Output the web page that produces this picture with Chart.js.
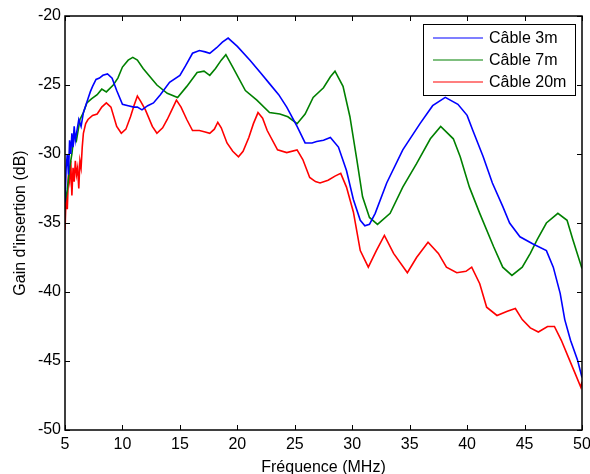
<!DOCTYPE html>
<html lang="fr">
  <head>
    <meta charset="UTF-8" />
    <title>Gain d'insertion</title>
    <script src="https://cdn.jsdelivr.net/npm/chart.js@4.4.1/dist/chart.umd.min.js"></script>
    <style>
      html, body { margin: 0; padding: 0; background: #fff; }
      #wrap { width: 590px; height: 474px; }
    </style>
  </head>
  <body>
    <div id="wrap"><canvas id="chart"></canvas></div>

    <script>
      // axes
      var xTicks = [5, 10, 15, 20, 25, 30, 35, 40, 45, 50];
      var yTicks = [-50, -45, -40, -35, -30, -25, -20];
      var labels = ['Câble 3m', 'Câble 7m', 'Câble 20m'];

      // Câble 3m
      var freq3 = [5.0,5.1,5.2,5.3,5.4,5.5,5.6,5.7,5.8,5.9, 6.0,6.2,6.4,6.6,6.8,7.0,7.2,7.4,7.7,8.0,
        8.3,8.7,9.1,9.5,10.0,10.5,11.0,11.3,11.7,12.2, 12.7,13.3,14.1,15.0,15.5,16.1,16.7,17.2,17.6,18.2,
        18.7,19.2,20.0,21.1,22.0,22.8,23.6,24.3,25.2,25.9, 26.5,26.9,27.5,28.1,28.8,29.5,30.1,30.7,31.1,31.5,
        32.0,33.0,34.4,35.9,37.0,38.1,39.2,40.0,40.5,41.4, 42.2,43.1,43.7,44.6,45.7,46.9,47.5,48.1,48.5,49.0,
        49.6,50.0];
      var gain3 = [-33.5,-31,-30,-31.5,-29,-30,-28.5,-29.5,-28,-29, -28.5,-27.5,-28,-27,-26.5,-26,-25.5,-25.1,-24.6,-24.5,
        -24.3,-24.2,-24.5,-25.4,-26.4,-26.5,-26.6,-26.6,-26.8,-26.5, -26.3,-25.7,-24.8,-24.3,-23.6,-22.7,-22.5,-22.6,-22.7,-22.3,
        -21.9,-21.6,-22.2,-23.2,-24.1,-24.9,-25.7,-26.6,-28.0,-29.2, -29.2,-29.1,-29.0,-28.8,-29.5,-31.2,-33.3,-34.8,-35.2,-35.1,
        -34.3,-32.1,-29.7,-27.8,-26.5,-25.9,-26.4,-27.2,-28.3,-30.2, -32.1,-33.8,-35.0,-36.0,-36.5,-37.0,-38.2,-40.1,-42.0,-43.5,
        -44.9,-46.2];

      // Câble 7m
      var freq7 = [5.0,5.2,5.4,5.6,5.8,6.0,6.3,6.6,6.9,7.3, 7.8,8.2,8.6,9.2,9.6,10.0,10.5,10.9,11.3,11.8,
        12.4,13.0,13.9,14.8,15.6,16.5,17.1,17.6,18.1,18.6, 19.0,19.6,20.7,21.7,22.8,23.7,24.4,25.2,25.9,26.6,
        27.5,28.1,28.5,29.2,29.8,30.4,30.9,31.5,32.2,33.3, 34.4,35.6,36.8,37.7,38.8,39.4,40.2,41.1,42.3,43.1,
        43.9,44.8,45.5,46.1,46.9,47.9,48.7,49.2,50.0];
      var gain7 = [-33.5,-32.6,-31,-30,-28.5,-29,-27.5,-27,-26.3,-26, -25.7,-25.3,-25.5,-25.0,-24.5,-23.7,-23.2,-23.0,-23.2,-23.8,
        -24.4,-25.0,-25.6,-25.9,-25.1,-24.1,-24.0,-24.3,-23.8,-23.2, -22.8,-23.7,-25.4,-26.1,-27.0,-27.1,-27.3,-27.8,-27.1,-25.9,
        -25.2,-24.4,-24.0,-25.1,-27.3,-30.4,-33.1,-34.6,-35.1,-34.3, -32.4,-30.7,-28.9,-28.0,-28.9,-30.2,-32.4,-34.3,-36.7,-38.2,
        -38.8,-38.2,-37.2,-36.2,-35.0,-34.3,-34.8,-36.2,-38.3];

      // Câble 20m
      var freq20 = [5.0,5.1,5.2,5.3,5.4,5.5,5.6,5.7,5.8,5.9, 6.0,6.1,6.2,6.3,6.4,6.5,6.6,6.8,7.0,7.4,
        7.8,8.2,8.6,9.0,9.5,9.9,10.3,10.7,11.0,11.3, 11.6,12.0,12.6,13.0,13.5,13.9,14.3,14.7,15.1,15.6,
        16.1,16.7,17.2,17.6,18.0,18.3,18.6,19.1,19.6,20.1, 20.5,21.0,21.4,21.8,22.2,22.6,23.5,24.3,25.2,25.7,
        26.3,26.8,27.2,27.9,28.5,29.0,29.5,30.1,30.7,31.4, 32.1,32.8,33.6,34.8,35.6,36.6,37.5,38.2,39.1,39.9,
        40.4,41.1,41.7,42.6,43.5,44.2,44.8,45.5,46.2,47.0, 47.6,48.2,48.8,49.4,49.9,50.0];
      var gain20 = [-35.5,-33,-34,-31.5,-32,-30.5,-33,-31,-32,-30.5, -31.5,-31,-32.5,-30.5,-31,-29.5,-28.5,-27.8,-27.5,-27.2,
        -27.1,-26.6,-26.3,-26.6,-28.0,-28.5,-28.2,-27.3,-26.5,-25.8, -26.2,-26.8,-28.0,-28.5,-28.1,-27.5,-26.8,-26.1,-26.6,-27.5,
        -28.3,-28.3,-28.4,-28.5,-28.2,-27.7,-28.1,-29.2,-29.8,-30.2, -29.8,-28.8,-27.8,-27.0,-27.4,-28.3,-29.7,-29.9,-29.7,-30.4,
        -31.7,-32.0,-32.1,-31.9,-31.6,-31.4,-32.4,-34.2,-37.0,-38.2, -37.0,-35.9,-37.2,-38.6,-37.5,-36.4,-37.2,-38.2,-38.6,-38.5,
        -38.2,-39.4,-41.1,-41.7,-41.4,-41.2,-42.0,-42.6,-42.9,-42.5, -42.5,-43.5,-44.7,-45.9,-46.9,-46.5];

      var colors = ['#0000ff', '#008000', '#ff0000'];

      function pts(xs, ys) {
        return xs.map(function (x, i) { return { x: x, y: ys[i] }; });
      }

      var FONT = 'Liberation Sans, Arial, sans-serif';
      Chart.defaults.font.family = FONT;
      Chart.defaults.font.size = 16;
      Chart.defaults.color = '#000';

      // cadre + graduations vers l'interieur (style matlab)
      var boxTicks = {
        id: 'boxTicks',
        afterDatasetsDraw: function (chart) {
          var ctx = chart.ctx, a = chart.chartArea;
          var xs = chart.scales.x, ys = chart.scales.y;
          var len = 5;
          ctx.save();
          ctx.strokeStyle = '#000';
          ctx.lineWidth = 1;
          ctx.beginPath();
          xTicks.forEach(function (v) {
            var px = Math.round(xs.getPixelForValue(v)) + 0.5;
            ctx.moveTo(px, a.bottom); ctx.lineTo(px, a.bottom - len);
            ctx.moveTo(px, a.top); ctx.lineTo(px, a.top + len);
          });
          yTicks.forEach(function (v) {
            var py = Math.round(ys.getPixelForValue(v)) + 0.5;
            ctx.moveTo(a.left, py); ctx.lineTo(a.left + len, py);
            ctx.moveTo(a.right, py); ctx.lineTo(a.right - len, py);
          });
          ctx.stroke();
          ctx.lineWidth = 1.5;
          ctx.strokeRect(a.left, a.top, a.right - a.left, a.bottom - a.top);
          ctx.restore();
        }
      };

      // legende encadree en haut a droite
      var boxLegend = {
        id: 'boxLegend',
        afterDraw: function (chart) {
          var ctx = chart.ctx, a = chart.chartArea;
          var x0 = a.right - 159, y0 = a.top + 8, w = 152, h = 71;
          ctx.save();
          ctx.fillStyle = '#fff';
          ctx.fillRect(x0, y0, w, h);
          ctx.strokeStyle = '#000';
          ctx.lineWidth = 1;
          ctx.strokeRect(x0 + 0.5, y0 + 0.5, w, h);
          ctx.font = '16px ' + FONT;
          ctx.textBaseline = 'middle';
          chart.data.datasets.forEach(function (ds, i) {
            var yy = y0 + 14 + i * 22;
            ctx.strokeStyle = ds.borderColor;
            ctx.lineWidth = 1.2;
            ctx.beginPath();
            ctx.moveTo(x0 + 10, yy); ctx.lineTo(x0 + 60, yy);
            ctx.stroke();
            ctx.fillStyle = '#000';
            ctx.fillText(ds.label, x0 + 66, yy + 1);
          });
          ctx.restore();
        }
      };

      new Chart(document.getElementById('chart'), {
        type: 'line',
        data: {
          datasets: [
            { label: labels[0], data: pts(freq3, gain3), borderColor: colors[0] },
            { label: labels[1], data: pts(freq7, gain7), borderColor: colors[1] },
            { label: labels[2], data: pts(freq20, gain20), borderColor: colors[2] }
          ]
        },
        options: {
          responsive: true,
          maintainAspectRatio: false,
          animation: false,
          elements: {
            point: { radius: 0 },
            line: { borderWidth: 1.6, tension: 0 }
          },
          layout: { padding: { top: 16, right: 0, left: 0, bottom: 0 } },
          plugins: { legend: { display: false }, tooltip: { enabled: false } },
          scales: {
            x: {
              type: 'linear', min: 5, max: 50,
              afterBuildTicks: function (s) { s.ticks = xTicks.map(function (v) { return { value: v }; }); },
              afterFit: function (s) { s.height = 44; s.paddingRight = 8; s.paddingLeft = 0; },
              grid: { display: false, drawTicks: false },
              border: { display: false },
              ticks: { padding: 5, maxRotation: 0 },
              title: { display: true, text: 'Fréquence (MHz)', padding: { top: 0, bottom: -3 } }
            },
            y: {
              type: 'linear', min: -50, max: -20,
              afterBuildTicks: function (s) { s.ticks = yTicks.map(function (v) { return { value: v }; }); },
              afterFit: function (s) { s.width = 65; },
              grid: { display: false, drawTicks: false },
              border: { display: false },
              ticks: { padding: 4 },
              title: { display: true, text: "Gain d'insertion (dB)", padding: { top: 11, bottom: 0 } }
            }
          }
        },
        plugins: [boxTicks, boxLegend]
      });
    </script>
  </body>
</html>
